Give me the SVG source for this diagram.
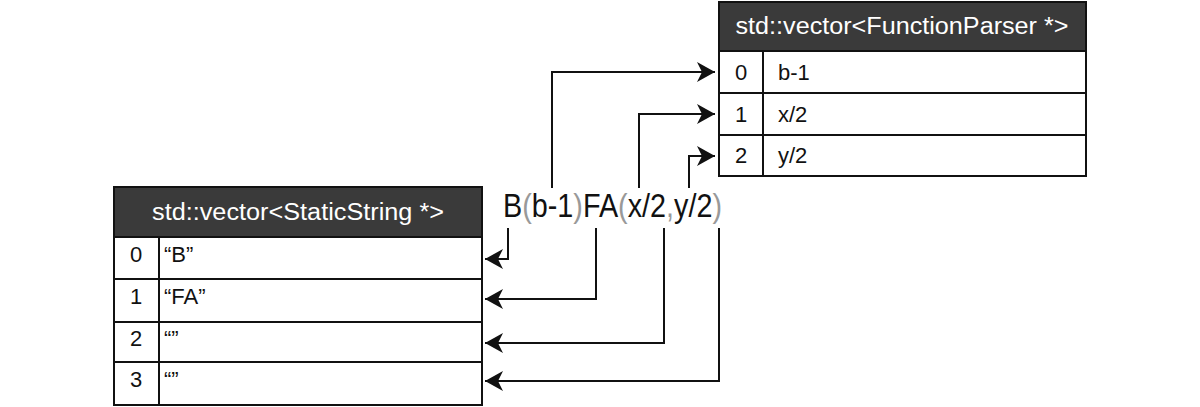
<svg xmlns="http://www.w3.org/2000/svg" width="1200" height="407" viewBox="0 0 1200 407">
<style>
.hdr{fill:#3a3a3a;stroke:#111;stroke-width:2}
.cell{fill:#fff;stroke:#111;stroke-width:2}
.ht{font-family:"Liberation Sans",Arial,sans-serif;font-size:23px;fill:#fff;text-anchor:middle}
.t{font-family:"Liberation Sans",Arial,sans-serif;font-size:22px;fill:#111}
.ti{font-family:"Liberation Sans",Arial,sans-serif;font-size:22px;fill:#111;text-anchor:middle}
.expr{font-family:"Liberation Sans",Arial,sans-serif;font-size:33px;fill:#111}
.g{fill:#999}
.c{fill:none;stroke:#111;stroke-width:2}
</style>
<defs>
<marker id="ah" markerUnits="userSpaceOnUse" markerWidth="20" markerHeight="22" refX="18" refY="10" orient="auto">
<path d="M0,0 L18,10 L0,20 L5,10 Z" fill="#111"/>
</marker>
</defs>
<g id="functionParserVector">
<rect class="hdr" x="719" y="2" width="367" height="49"/>
<text class="ht" x="902" y="34" textLength="333" lengthAdjust="spacingAndGlyphs">std::vector&lt;FunctionParser *&gt;</text>
<rect class="cell" x="719" y="51" width="367" height="42"/>
<rect class="cell" x="719" y="93" width="367" height="42"/>
<rect class="cell" x="719" y="135" width="367" height="41"/>
<line x1="763" y1="51" x2="763" y2="176" stroke="#111" stroke-width="2"/>
<text class="ti" x="741" y="80">0</text>
<text class="ti" x="741" y="122">1</text>
<text class="ti" x="741" y="163">2</text>
<text class="t" x="778" y="80">b-1</text>
<text class="t" x="778" y="122">x/2</text>
<text class="t" x="778" y="163">y/2</text>
</g>
<g id="staticStringVector">
<rect class="hdr" x="114" y="187" width="368" height="50"/>
<text class="ht" x="298" y="220" textLength="292" lengthAdjust="spacingAndGlyphs">std::vector&lt;StaticString *&gt;</text>
<rect class="cell" x="114" y="237" width="368" height="42"/>
<rect class="cell" x="114" y="279" width="368" height="43"/>
<rect class="cell" x="114" y="322" width="368" height="40"/>
<rect class="cell" x="114" y="362" width="368" height="43"/>
<line x1="159" y1="237" x2="159" y2="405" stroke="#111" stroke-width="2"/>
<text class="ti" x="136" y="262">0</text>
<text class="ti" x="136" y="304">1</text>
<text class="ti" x="136" y="346">2</text>
<text class="ti" x="136" y="387">3</text>
<text class="t" x="164" y="262">“B”</text>
<text class="t" x="164" y="304">“FA”</text>
<text class="t" x="164" y="346">“”</text>
<text class="t" x="164" y="387">“”</text>
</g>
<g id="expression">
<text class="expr" x="503" y="217" textLength="219" lengthAdjust="spacingAndGlyphs">B<tspan class="g">(</tspan>b-1<tspan class="g">)</tspan>FA<tspan class="g">(</tspan>x/2<tspan class="g">,</tspan>y/2<tspan class="g">)</tspan></text>
</g>
<g id="connectors">
<path class="c" d="M552,188 V72 H715" marker-end="url(#ah)"/>
<path class="c" d="M639,188 V114 H715" marker-end="url(#ah)"/>
<path class="c" d="M689,188 V156 H715" marker-end="url(#ah)"/>
<path class="c" d="M508,228 V259 H485" marker-end="url(#ah)"/>
<path class="c" d="M596,228 V299 H485" marker-end="url(#ah)"/>
<path class="c" d="M664,228 V343 H485" marker-end="url(#ah)"/>
<path class="c" d="M719,228 V381 H485" marker-end="url(#ah)"/>
</g>
</svg>
